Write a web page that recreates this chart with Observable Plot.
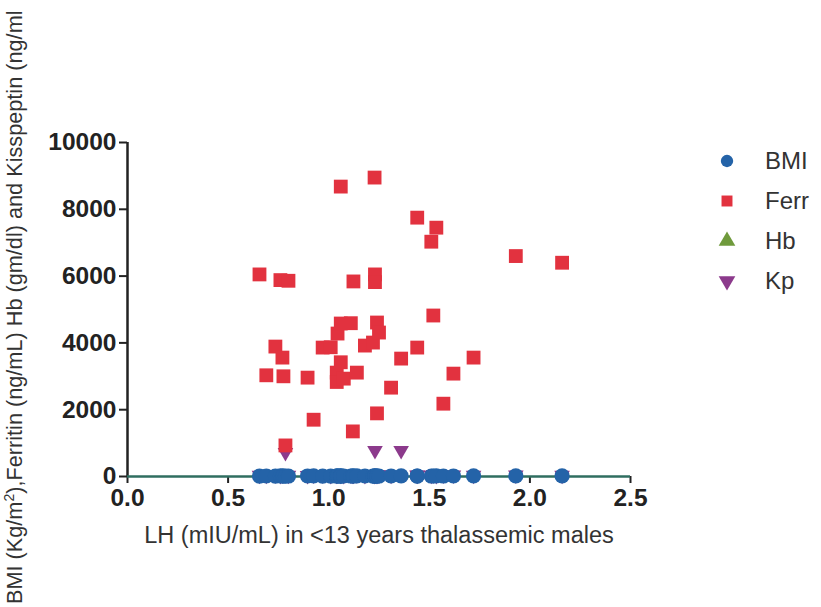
<!DOCTYPE html>
<html>
<head>
<meta charset="utf-8">
<script src="https://cdn.jsdelivr.net/npm/d3@7"></script>
<script src="https://cdn.jsdelivr.net/npm/@observablehq/plot@0.6"></script>
<style>
  body { margin: 0; background: #fff; }
  #wrap { position: relative; width: 821px; height: 607px; overflow: hidden; font-family: "Liberation Sans", Arial, sans-serif; }
  #legend { position: absolute; left: 715px; top: 141px; }
  .li { display: flex; align-items: center; height: 40px; font-size: 24px; color: #333; }
  .li svg { width: 24px; height: 24px; margin-right: 26px; }
</style>
</head>
<body>
<div id="wrap"></div>
<script>
// LH (mIU/mL) per patient, with matching measurements
const lh   = [0.656, 0.69, 0.735, 0.76, 0.77, 0.775, 0.785, 0.80, 0.895, 0.925,
              0.97, 1.01, 1.04, 1.04, 1.044, 1.06, 1.06, 1.06, 1.075, 1.11,
              1.12, 1.123, 1.14, 1.18, 1.22, 1.228, 1.23, 1.23, 1.24, 1.24,
              1.25, 1.31, 1.36, 1.44, 1.44, 1.51, 1.52, 1.535, 1.57, 1.62,
              1.72, 1.93, 2.16];
const ferritin = [6050, 3030, 3890, 5880, 3560, 3000, 930, 5860, 2960, 1700,
              3860, 3870, 3110, 2830, 4280, 8680, 4580, 3420, 2930, 4590,
              1350, 5840, 3110, 3920, 4010, 8950, 6050, 5820, 4610, 1890,
              4310, 2660, 3530, 3860, 7750, 7030, 4820, 7450, 2180, 3080,
              3560, 6600, 6400];
const bmi  = [14.2, 15.1, 13.8, 16.0, 14.5, 15.3, 13.9, 14.8, 15.6, 16.2,
              14.1, 13.7, 15.0, 14.4, 15.8, 16.5, 14.9, 13.6, 15.2, 14.7,
              15.9, 14.3, 16.1, 15.4, 14.0, 15.5, 14.6, 16.3, 15.7, 13.5,
              14.8, 15.1, 16.0, 14.2, 15.6, 14.9, 15.3, 16.4, 14.5, 15.0,
              15.8, 16.6, 17.0];
const hb   = [8.6, 9.1, 8.2, 9.4, 8.9, 9.0, 8.4, 9.2, 8.8, 9.5,
              8.7, 9.3, 8.5, 9.0, 8.9, 9.6, 8.3, 9.1, 8.8, 9.2,
              8.6, 9.4, 8.7, 9.0, 8.9, 9.3, 8.5, 9.1, 8.8, 9.0,
              8.7, 9.2, 8.9, 9.4, 8.6, 9.0, 8.8, 9.3, 8.5, 9.1,
              8.9, 9.2, 9.0];
const kisspeptin = [40, 35, 52, 28, 45, 60, 720, 38, 33, 47,
              55, 30, 42, 36, 50, 44, 39, 58, 31, 46,
              37, 41, 53, 29, 48, 34, 780, 43, 51, 32,
              49, 36, 780, 40, 45, 38, 56, 33, 47, 42,
              39, 44, 35];
const xTicks = [0, 0.5, 1.0, 1.5, 2.0, 2.5];
const yTicks = [0, 2000, 4000, 6000, 8000, 10000];
const seriesNames = ["BMI", "Ferr", "Hb", "Kp"];
const seriesColors = ["#2463a8", "#e2323f", "#6f9a3c", "#8c3a8c"];

const rows = lh.map((x, i) => ({lh: x, ferr: ferritin[i], bmi: bmi[i], hb: hb[i], kp: kisspeptin[i]}));

const chart = Plot.plot({
  width: 821,
  height: 607,
  marginLeft: 127,
  marginRight: 191,
  marginTop: 142,
  marginBottom: 131,
  style: { fontFamily: "'Liberation Sans', Arial, sans-serif", background: "transparent" },
  x: { domain: [0, 2.5] },
  y: { domain: [0, 10000] },
  marks: [
    Plot.axisY({ ticks: yTicks, tickFormat: d => String(d), tickSize: 8, tickPadding: 3,
                 fontSize: 24.5, fontWeight: "bold", fill: "#222", stroke: "#222", strokeWidth: 2, label: null }),
    Plot.axisX({ ticks: xTicks, tickFormat: d => d.toFixed(1), tickSize: 7, tickPadding: 5,
                 fontSize: 24.5, fontWeight: "bold", fill: "#222", stroke: "#222", strokeWidth: 2, label: null }),
    Plot.ruleX([0], { y1: 0, y2: 10000, stroke: "#222", strokeWidth: 2.5 }),
    Plot.ruleY([0], { x1: 0, x2: 2.5, stroke: "#2f6e60", strokeWidth: 2.5 }),
    Plot.dot(rows, { x: "lh", y: "hb", symbol: "triangle", r: 4.5, fill: seriesColors[2] }),
    Plot.dot(rows, { x: "lh", y: "kp", symbol: "triangle", r: 5.8, rotate: 180, fill: seriesColors[3] }),
    Plot.dot(rows, { x: "lh", y: "bmi", symbol: "circle", r: 7.6, fill: seriesColors[0] }),
    Plot.dot(rows, { x: "lh", y: "ferr", symbol: "square", r: 7.8, fill: seriesColors[1] }),
    Plot.text(["LH (mIU/mL) in <13 years thalassemic males"], {
      frameAnchor: "bottom", dy: 66, fontSize: 23.5, fill: "#333"
    })
  ]
});

const wrap = document.getElementById("wrap");
wrap.appendChild(chart);

// rotated y-axis title
const svg = d3.select(chart);
const yt = svg.append("text")
  .attr("transform", "translate(22,604) rotate(-90)")
  .attr("text-anchor", "start")
  .attr("font-size", 21.7)
  .attr("fill", "#333");
yt.append("tspan").text("BMI (Kg/m");
yt.append("tspan").attr("dy", -8).attr("font-size", 14).text("2");
yt.append("tspan").attr("dy", 8).text("),Ferritin (ng/mL) Hb (gm/dl) and Kisspeptin (ng/ml");

// legend
const symbolPaths = ["circle", "square", "triangle", "triangle"];
const legend = document.createElement("div");
legend.id = "legend";
seriesNames.forEach((name, i) => {
  const item = document.createElement("div");
  item.className = "li";
  const s = d3.create("svg").attr("viewBox", "-12 -12 24 24");
  const sym = {circle: d3.symbolCircle, square: d3.symbolSquare, triangle: d3.symbolTriangle}[symbolPaths[i]];
  s.append("path").attr("d", d3.symbol(sym, 120)()).attr("fill", seriesColors[i])
    .attr("transform", i === 3 ? "rotate(180)" : null);
  item.appendChild(s.node());
  const t = document.createElement("span");
  t.textContent = name;
  item.appendChild(t);
  legend.appendChild(item);
});
wrap.appendChild(legend);
</script>
</body>
</html>
